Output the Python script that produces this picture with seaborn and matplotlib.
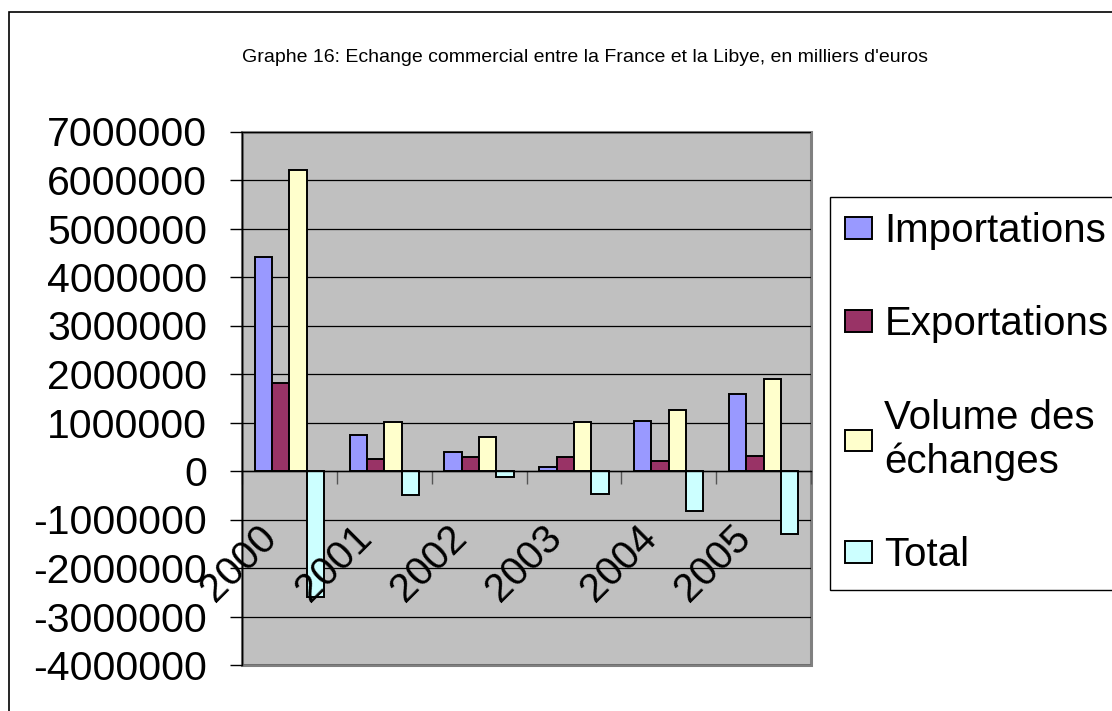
import numpy as np
import pandas as pd
import matplotlib
matplotlib.use("Agg")
import matplotlib.pyplot as plt
from matplotlib.patches import Rectangle
import seaborn as sns

# data (milliers d'euros)
years = ["2000", "2001", "2002", "2003", "2004", "2005"]
importations = [4410000, 750000, 400000, 75000, 1030000, 1580000]
exportations = [1810000, 250000, 290000, 280000, 210000, 300000]
volume = [6210000, 1010000, 700000, 1020000, 1260000, 1890000]
total = [-2600000, -500000, -120000, -480000, -820000, -1290000]

series_names = ["Importations", "Exportations", "Volume des échanges", "Total"]
legend_labels = ["Importations", "Exportations", "Volume des\néchanges", "Total"]
colors = ["#9999FF", "#993366", "#FFFFCC", "#CCFFFF"]
yticks = list(range(-4000000, 7000001, 1000000))

df = pd.DataFrame({
    "year": years * 4,
    "serie": np.repeat(series_names, len(years)),
    "value": importations + exportations + volume + total,
})

sns.set_style("white")
plt.rcParams["font.family"] = ["Liberation Sans", "DejaVu Sans"]
plt.rcParams["axes.unicode_minus"] = False
for k in ["text.color", "xtick.color", "ytick.color", "axes.labelcolor"]:
    plt.rcParams[k] = "black"

fig = plt.figure(figsize=(11.12, 7.11), dpi=100)
ax = fig.add_axes([242 / 1112, 1 - 665 / 711, (811 - 242) / 1112, (665 - 131.5) / 711])
ax.set_facecolor("#C0C0C0")

sns.barplot(data=df, x="year", y="value", hue="serie", palette=colors,
            width=0.73, gap=0, edgecolor="black", linewidth=1.4,
            saturation=1, ax=ax)

handles, labels = ax.get_legend_handles_labels()
ax.get_legend().remove()

ax.set_xlim(-0.5, 5.5)
ax.set_ylim(-4000000, 7000000)
ax.set_yticks(yticks)
ax.set_yticklabels([str(v) for v in yticks], fontsize=29.5)
ax.set_xlabel("")
ax.set_ylabel("")
ax.set_axisbelow(True)
ax.yaxis.grid(True, color="black", linewidth=0.9)
ax.tick_params(axis="y", direction="out", length=9, width=1, color="black", pad=16, left=True)

# category axis crosses at zero
ax.spines["bottom"].set_position(("data", 0))
ax.spines["bottom"].set_color("black")
ax.spines["bottom"].set_linewidth(1)
ax.spines["left"].set_color("black")
ax.spines["left"].set_linewidth(1)
for s in ["top", "right"]:
    ax.spines[s].set_visible(False)
ax.add_patch(Rectangle((0, 0), 1, 1, transform=ax.transAxes, fill=False,
                       edgecolor="#808080", linewidth=2.2, zorder=0.5, clip_on=False))

# category labels, rotated, hanging under the zero line
xpos = ax.get_xticks()
xlab = [t.get_text() for t in ax.get_xticklabels()]
ax.set_xticks(xpos)
ax.set_xticklabels([])
ax.set_xticks(np.arange(-0.5, len(xpos)), minor=True)
ax.tick_params(axis="x", which="major", length=0, bottom=True)
ax.tick_params(axis="x", which="minor", direction="out", length=9.5, width=1,
               color="#555555", bottom=True)
for x, lab in zip(xpos, xlab):
    ax.annotate(lab, xy=(x, 0), xycoords="data", xytext=(-23, -34),
                textcoords="offset points", rotation=45, ha="right", va="top",
                rotation_mode="anchor", fontsize=29, annotation_clip=False)

fig.legend(handles, legend_labels, loc="upper left",
           bbox_to_anchor=(830 / 1112, 1 - 197 / 711), fontsize=29,
           frameon=True, fancybox=False, edgecolor="black", framealpha=1,
           handlelength=0.67, handleheight=0.45, handletextpad=0.3,
           labelspacing=1.37, borderpad=0.38, borderaxespad=0)

fig.text(585.5 / 1112, 1 - 57 / 711,
         "Graphe 16: Echange commercial entre la France et la Libye, en milliers d'euros",
         ha="center", va="center", fontsize=14)

# outer chart border
fig.add_artist(Rectangle((9 / 1112, -0.1), 1.2, 1.1 - 12 / 711, transform=fig.transFigure,
                         fill=False, edgecolor="black", linewidth=1.2))

fig.savefig("out.png", dpi=100)
